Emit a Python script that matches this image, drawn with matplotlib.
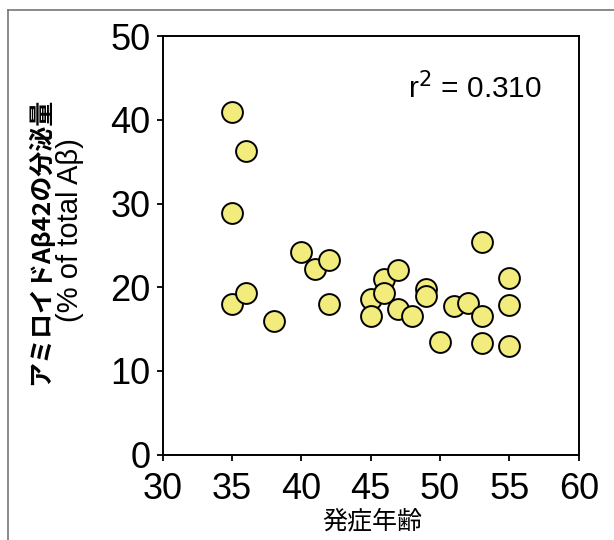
import matplotlib
matplotlib.use("Agg")
import matplotlib.pyplot as plt
from matplotlib.lines import Line2D

onset_age = [35, 36, 35, 35, 36, 38, 40, 41, 42, 42, 45, 45, 46, 46, 47, 47, 48,
             49, 49, 50, 51, 52, 53, 53, 53, 55, 55, 55]
abeta42_pct = [40.9, 36.3, 28.9, 18.0, 19.3, 16.0, 24.2, 22.2, 23.2, 18.0, 18.6, 16.6,
               21.0, 19.3, 22.1, 17.4, 16.5, 19.8, 18.9, 13.5, 17.8, 18.1, 25.4, 16.6,
               13.3, 21.1, 17.9, 13.0]
x_ticks = [30, 35, 40, 45, 50, 55, 60]
y_ticks = [0, 10, 20, 30, 40, 50]
r2_label = "r$^2$ = 0.310"

plt.rcParams['font.family'] = ['Liberation Sans', 'DejaVu Sans']

fig = plt.figure(figsize=(6.14, 5.4), dpi=100)
fig.patch.set_facecolor('white')
ax = fig.add_axes([0.2647, 0.1583, 0.6778, 0.7747])

ax.scatter(onset_age, abeta42_pct, s=225, facecolor='#F2EC7C', edgecolor='black',
           linewidth=1.4, zorder=3, clip_on=False)

ax.set_xlim(30, 60)
ax.set_ylim(0, 50)
ax.set_xticks(x_ticks)
ax.set_yticks(y_ticks)
ax.tick_params(axis='both', direction='out', length=4.5, width=1.3, labelsize=26)
ax.tick_params(axis='x', pad=8)
ax.tick_params(axis='y', pad=4)
for sp in ax.spines.values():
    sp.set_linewidth(1.4)

ax.text(47.7, 43.8, r2_label, fontsize=21.5, ha='left', va='center')

fig.text(372/614, 1 - 521/540, "発症年齢", family=['Noto Sans CJK JP', 'DejaVu Sans'],
         fontsize=18, ha='center', va='center')
fig.text(40/614, 1 - 241/540, "アミロイドAβ42の分泌量", family=['Noto Sans CJK JP', 'DejaVu Sans'],
         fontsize=18, fontweight='bold', rotation=90, ha='center', va='center')
fig.text(70/614, 1 - 230/540, "(% of total Aβ)", fontsize=21, rotation=90,
         ha='center', va='center')

# page frame lines
fig.add_artist(Line2D([8/614, 1.0], [1 - 10/540, 1 - 10/540], transform=fig.transFigure,
                      color='#777777', linewidth=1.2))
fig.add_artist(Line2D([8/614, 8/614], [0, 1 - 10/540], transform=fig.transFigure,
                      color='#777777', linewidth=1.2))

fig.savefig("out.png", dpi=100)
